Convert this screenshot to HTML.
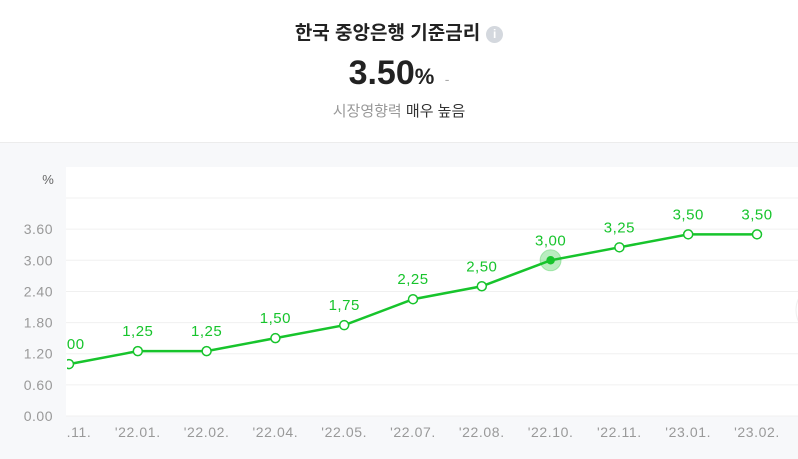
<!DOCTYPE html>
<html><head><meta charset="utf-8">
<style>
body{margin:0;width:798px;height:459px;overflow:hidden;background:#fff;font-family:"Liberation Sans","Noto Sans CJK KR",sans-serif;}
#top{position:absolute;left:0;top:0;width:798px;height:142px;background:#fff;border-bottom:1px solid #ececec;}
#title{position:absolute;top:18px;left:0;width:798px;text-align:center;font-size:19px;font-weight:bold;color:#222;}
#info{display:inline-block;width:17px;height:17px;border-radius:50%;background:#d4d8de;color:#fff;font-size:12px;line-height:17px;vertical-align:1px;margin-left:6px;font-weight:bold}
#val{position:absolute;top:54px;left:0;width:798px;text-align:center;color:#222;}
#sub{position:absolute;top:100px;left:0;width:798px;text-align:center;font-size:15px;color:#999;}
#chart{position:absolute;left:0;top:143px;}
</style></head><body>
<div id="top">
<div id="title">한국 중앙은행 기준금리<span id="info">i</span></div>
<div id="val"><span style="font-size:34px;font-weight:bold">3.50</span><span style="font-size:22px;font-weight:bold">%</span> <span style="color:#aaa;font-size:14px;margin-left:6px">-</span></div>
<div id="sub">시장영향력 <span style="color:#333">매우 높음</span></div>
</div>
<svg id="chart" width="798" height="316">
<defs><clipPath id="cp"><rect x="67" y="0" width="740" height="316"/></clipPath></defs>
<rect x="0" y="0" width="798" height="316" fill="#f7f8fa"/>
<rect x="66" y="24" width="740" height="249" fill="#fff"/>
<g id="grid"></g><g id="yt"></g><g id="xt" clip-path="url(#cp)"></g><g id="ln" clip-path="url(#cp)"></g>
<circle cx="822" cy="167" r="26" fill="#fff" stroke="#eee"/>
</svg>
<script>
const categories=["'21.11.","'22.01.","'22.02.","'22.04.","'22.05.","'22.07.","'22.08.","'22.10.","'22.11.","'23.01.","'23.02."];
const rates=[1.00,1.25,1.25,1.50,1.75,2.25,2.50,3.00,3.25,3.50,3.50];
const yTicks=[0,0.6,1.2,1.8,2.4,3.0,3.6];
const NS="http://www.w3.org/2000/svg";
const y=v=>273-v*51.9;
const x=i=>69+i*68.8;
function mk(t,a,p){const e=document.createElementNS(NS,t);for(const k in a)e.setAttribute(k,a[k]);p.appendChild(e);return e;}
const G=document.getElementById('grid'),YT=document.getElementById('yt'),XT=document.getElementById('xt'),LN=document.getElementById('ln');
[...yTicks,4.2].forEach(v=>{const l=mk('line',{x1:66,x2:798,y1:y(v),y2:y(v),stroke:'#f0f0f0'},G);

});
yTicks.forEach(v=>{const t=mk('text',{x:53,y:y(v)+5,'text-anchor':'end','font-size':14,'letter-spacing':0.5,fill:'#999'},YT);t.textContent=v.toFixed(2);

});
const pc=mk('text',{x:48,y:41,'text-anchor':'middle','font-size':13,fill:'#666'},YT);pc.textContent='%';


categories.forEach((c,i)=>{const t=mk('text',{x:x(i),y:294,'text-anchor':'middle','font-size':14,'letter-spacing':0.6,fill:'#999'},XT);t.textContent=c;

});
const pl=mk('polyline',{points:rates.map((v,i)=>x(i)+','+y(v)).join(' '),fill:'none',stroke:'#17c42c','stroke-width':2.5},LN);


rates.forEach((v,i)=>{
if(i===7){const h=mk('circle',{cx:x(i),cy:y(v),r:10.5,fill:'#17c42c','fill-opacity':0.3,stroke:'#17c42c','stroke-opacity':0.3},LN);

}
const c=mk('circle',{cx:x(i),cy:y(v),r:i===7?3.5:4.5,fill:i===7?'#17c42c':'#fff',stroke:'#17c42c','stroke-width':1.5},LN);


const t=mk('text',{x:x(i),y:y(v)-15,'text-anchor':'middle','font-size':15,'letter-spacing':0.5,fill:'#17c42c'},LN);t.textContent=v.toFixed(2).replace('.',',');

});
</script>
</body></html>
